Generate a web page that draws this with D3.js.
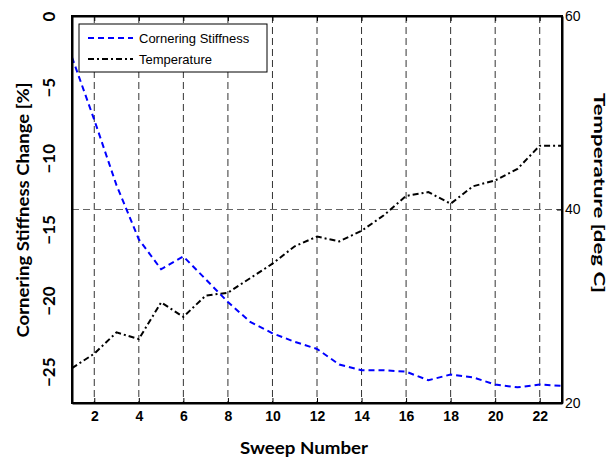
<!DOCTYPE html>
<html>
<head>
<meta charset="utf-8">
<script src="https://cdn.jsdelivr.net/npm/d3@7"></script>
<style>
  body { margin: 0; background: #fff; }
  .tick text { font-family: "Liberation Sans", Arial, sans-serif; }
</style>
</head>
<body>
<div id="vis"></div>
<script>
// sweep numbers
var sweeps = d3.range(1, 24);
// cornering stiffness change [%] per sweep
var stiffness = [-2.9, -7.3, -11.9, -15.7, -17.8, -16.9, -18.5, -20.1, -21.5, -22.3, -22.9, -23.4,
                 -24.5, -24.9, -24.9, -25.0, -25.6, -25.2, -25.4, -25.9, -26.1, -25.9, -26.0];
// temperature [deg C] per sweep
var temperature = [23.6, 25.1, 27.3, 26.6, 30.4, 28.9, 31.1, 31.4, 32.9, 34.4, 36.2, 37.2,
                   36.7, 37.8, 39.4, 41.4, 41.8, 40.6, 42.4, 43.0, 44.2, 46.6, 46.6];
var xTicks = [2, 4, 6, 8, 10, 12, 14, 16, 18, 20, 22];
var leftTicks = [0, -5, -10, -15, -20, -25];
var rightTicks = [20, 40, 60];
var seriesNames = ["Cornering Stiffness", "Temperature"];

var W = 609, H = 459;
var m = {left: 72, right: 47, top: 16, bottom: 56};
var iw = W - m.left - m.right, ih = H - m.top - m.bottom;

let svg = d3.select("#vis").append("svg")
            .attr("width", W)
            .attr("height", H);

let g = svg.append("g").attr("transform", "translate(" + m.left + "," + m.top + ")");

let x = d3.scaleLinear().domain([1, 23]).range([0, iw]);
let yL = d3.scaleLinear().domain([-27.2, 0]).range([ih, 0]);
let yR = d3.scaleLinear().domain([20, 60]).range([ih, 0]);

// grid
g.selectAll(".vgrid")
  .data(xTicks)
  .enter()
  .append("line")
  .attr("x1", d => x(d)).attr("x2", d => x(d))
  .attr("y1", 0).attr("y2", ih)
  .style("stroke", "#333")
  .style("stroke-width", 1)
  .style("stroke-dasharray", "7,4");

g.append("line")
  .attr("x1", 0).attr("x2", iw)
  .attr("y1", yR(40)).attr("y2", yR(40))
  .style("stroke", "#666")
  .style("stroke-width", 1)
  .style("stroke-dasharray", "7,4");

// lines
let lineS = d3.line().x((d, i) => x(sweeps[i])).y(d => yL(d));
let lineT = d3.line().x((d, i) => x(sweeps[i])).y(d => yR(d));

g.append("path")
  .datum(temperature)
  .attr("d", lineT)
  .style("fill", "none")
  .style("stroke", "#000")
  .style("stroke-width", 2)
  .style("stroke-dasharray", "6,3,2,3");

g.append("path")
  .datum(stiffness)
  .attr("d", lineS)
  .style("fill", "none")
  .style("stroke", "#0000ff")
  .style("stroke-width", 2)
  .style("stroke-dasharray", "6,4");

// axes
let xAxis = g.append("g")
  .attr("transform", "translate(0," + ih + ")")
  .call(d3.axisBottom(x).tickValues(xTicks).tickSizeInner(-5).tickSizeOuter(0).tickPadding(8));
xAxis.selectAll("text")
  .style("font-size", "14px").style("font-weight", "bold").style("fill", "#000");

g.append("g")
  .call(d3.axisTop(x).tickValues(xTicks).tickSizeInner(-5).tickSizeOuter(0).tickFormat(""));

let leftAxis = g.append("g")
  .call(d3.axisLeft(yL).tickValues(leftTicks).tickSize(0).tickPadding(0).tickFormat(d3.format("d")));
leftAxis.selectAll("text")
  .attr("x", null).attr("dy", null)
  .attr("transform", "translate(-17,0) rotate(-90)")
  .style("text-anchor", "middle")
  .style("font-family", "Lato, sans-serif")
  .style("font-size", "17px")
  .style("font-weight", "bold")
  .style("fill", "#000");

let rightAxis = g.append("g")
  .attr("transform", "translate(" + iw + ",0)")
  .call(d3.axisRight(yR).tickValues(rightTicks).tickSizeInner(-5).tickSizeOuter(0).tickPadding(3));
rightAxis.selectAll("text").style("font-size", "14px").style("fill", "#000");

g.selectAll(".domain").style("stroke", "#000").style("stroke-width", 2);
g.selectAll(".tick line").style("stroke", "#000").style("stroke-width", 1);

// frame
g.append("rect")
  .attr("width", iw).attr("height", ih)
  .style("fill", "none").style("stroke", "#000").style("stroke-width", 2);

// axis titles
svg.append("text")
  .attr("transform", "translate(29,210) rotate(-90)")
  .attr("text-anchor", "middle")
  .attr("textLength", 255).attr("lengthAdjust", "spacingAndGlyphs")
  .style("font-family", "Lato, sans-serif")
  .style("font-size", "17px").style("font-weight", "bold")
  .text("Cornering Stiffness Change [%]");

svg.append("text")
  .attr("transform", "translate(594,193) rotate(90)")
  .attr("text-anchor", "middle")
  .attr("textLength", 200).attr("lengthAdjust", "spacingAndGlyphs")
  .style("font-family", "Lato, sans-serif")
  .style("font-size", "16px").style("font-weight", "bold")
  .text("Temperature [deg C]");

svg.append("text")
  .attr("x", 304).attr("y", 454)
  .attr("text-anchor", "middle")
  .attr("textLength", 128).attr("lengthAdjust", "spacingAndGlyphs")
  .style("font-family", "Lato, sans-serif")
  .style("font-size", "17px").style("font-weight", "bold")
  .text("Sweep Number");

// legend
let leg = g.append("g").attr("transform", "translate(7,8)");
leg.append("rect")
  .attr("width", 188).attr("height", 48)
  .style("fill", "#fff").style("stroke", "#000").style("stroke-width", 1);
let dashes = ["6,4", "6,3,2,3"];
let colors = ["#0000ff", "#000"];
seriesNames.forEach(function (name, i) {
  leg.append("line")
    .attr("x1", 9).attr("x2", 54)
    .attr("y1", 14 + i * 21).attr("y2", 14 + i * 21)
    .style("stroke", colors[i]).style("stroke-width", 2)
    .style("stroke-dasharray", dashes[i]);
  leg.append("text")
    .attr("x", 60).attr("y", 19 + i * 21)
    .style("font-family", "Liberation Sans, Arial, sans-serif")
    .style("font-size", "13px")
    .text(name);
});
</script>
</body>
</html>
